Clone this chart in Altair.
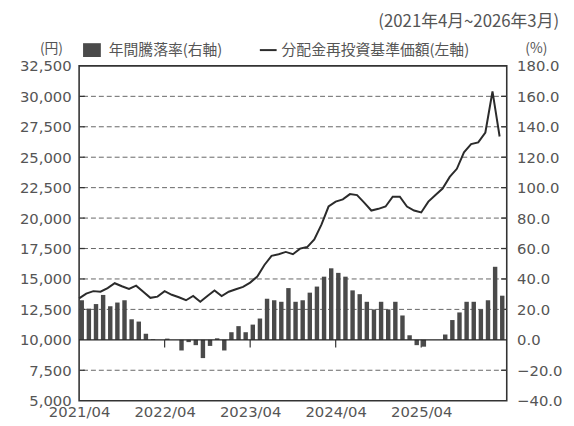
import altair as alt
import pandas as pd

# ---- data ----
month_idx = list(range(60))  # 2021/04 .. 2026/03
rate = [26, 20.5, 23.5, 29.5, 22, 24.5, 26, 13.5, 12, 4,
        0.4, 0, 0.8, 0, -7, -1.5, -3.5, -12, -4, 1,
        -7, 5, 9, 5, 10, 14, 27, 26, 25, 34,
        25, 26, 31, 35, 41.5, 47, 44, 41.5, 32.5, 30,
        25, 20, 25, 20, 25, 16, 3, -3.5, -4.5, 0,
        0, 3.5, 13, 18, 25, 25, 20, 26, 48, 29]
nav = [13400, 13800, 14000, 13950, 14250, 14650, 14400, 14180, 14450, 13950,
       13450, 13550, 14000, 13700, 13500, 13250, 13600, 13120, 13600, 14050,
       13600, 13950, 14150, 14350, 14700, 15200, 16150, 16900, 17030, 17220,
       17030, 17490, 17620, 18240, 19460, 20950, 21350, 21540, 21970, 21890,
       21270, 20620, 20760, 20950, 21760, 21760, 20950, 20620, 20460, 21350,
       21890, 22430, 23380, 24050, 25400, 26080, 26220, 27030, 30400, 26700]

yen_ticks = [5000, 7500, 10000, 12500, 15000, 17500, 20000, 22500, 25000, 27500, 30000, 32500]
pct_ticks = [-40, -20, 0, 20, 40, 60, 80, 100, 120, 140, 160, 180]
grid_pct = [-20, 20, 40, 60, 80, 100, 120, 140, 160]
zero_pct = [0]
year_idx = [0, 12, 24, 36, 48]
year_labels = ["2021/04", "2022/04", "2023/04", "2024/04", "2025/04"]

legend_bar = "年間騰落率(右軸)"
legend_line = "分配金再投資基準価額(左軸)"
unit_left = "(円)"
unit_right = "(%)"
period = "(2021年4月~2026年3月)"

df = pd.DataFrame({"i": month_idx, "rate": rate, "nav": nav})

LBL = "#555555"
NUM_FONT = "DejaVu Sans"
JP_FONT = "Noto Sans CJK JP"

label_expr = "[" + ",".join("'%s'" % s for s in year_labels) + "][round(datum.value/12)]"

xscale = alt.Scale(domain=[0, 60], nice=False, zero=False)
xaxis = alt.Axis(values=year_idx, labelExpr=label_expr, title=None, domain=False,
                 ticks=False, grid=False, labelFont=NUM_FONT, labelFontSize=15,
                 labelColor=LBL, labelPadding=4, labelFlush=False, labelOverlap=False)


def X(f):
    return alt.X(f, scale=xscale, axis=xaxis)


yr_scale = alt.Scale(domain=[-40, 180], nice=False, zero=False)
yr_axis = alt.Axis(orient="right", values=pct_ticks, format=".1f", title=None,
                   domain=False, ticks=False, grid=False, labelFont=NUM_FONT,
                   labelFontSize=15, labelColor=LBL, labelPadding=10,
                   labelFlush=False, labelOverlap=False)


def YR(f="rate:Q"):
    return alt.Y(f, scale=yr_scale, axis=yr_axis)


grid_df = pd.DataFrame({"rate": grid_pct})

grid = alt.Chart(grid_df).mark_rule(color="#666666", strokeDash=[5, 3], strokeWidth=1).encode(y=YR())
ticks_l = alt.Chart(grid_df).transform_calculate(a="0", b="0.8").mark_rule(
    color="#333333", strokeWidth=1.3).encode(x=X("a:Q"), x2="b:Q", y=YR())
ticks_r = alt.Chart(grid_df).transform_calculate(a="59.2", b="60").mark_rule(
    color="#333333", strokeWidth=1.3).encode(x=X("a:Q"), x2="b:Q", y=YR())
bars = alt.Chart(df).transform_calculate(
    x0="datum.i + 0.06", x1="datum.i + 0.68", z="0"
).mark_bar(color="#4a4a4a").encode(x=X("x0:Q"), x2="x1:Q", y=YR(), y2="z:Q")
zero = alt.Chart(pd.DataFrame({"rate": zero_pct})).mark_rule(color="#222222", strokeWidth=1.3).encode(y=YR())
yticks = alt.Chart(pd.DataFrame({"m": year_idx[1:]})).transform_calculate(
    rate="0", r2="-5").mark_rule(color="#333333", strokeWidth=1.2).encode(
    x=X("m:Q"), y=YR(), y2="r2:Q")

inner = alt.layer(grid, ticks_l, ticks_r, bars, zero, yticks)

line = alt.Chart(df).mark_line(color="#2b2b2b", strokeWidth=2).encode(
    x=X("i:Q"),
    y=alt.Y("nav:Q", scale=alt.Scale(domain=[5000, 32500], nice=False, zero=False),
            axis=alt.Axis(orient="left", values=yen_ticks, format=",d", title=None,
                          domain=False, ticks=False, grid=False, labelFont=NUM_FONT,
                          labelFontSize=15, labelColor=LBL, labelPadding=8,
                          labelFlush=False, labelOverlap=False)),
)


def txt(s, x, y, align="left", size=15, font=JP_FONT):
    return alt.Chart(pd.DataFrame({"t": [s]})).mark_text(
        align=align, baseline="middle", font=font, fontSize=size, color=LBL
    ).encode(text="t:N", x=alt.value(x), y=alt.value(y))


leg_rect = alt.Chart(pd.DataFrame({"t": [0]})).mark_rect(color="#4a4a4a").encode(
    x=alt.value(4), x2=alt.value(22), y=alt.value(-23), y2=alt.value(-9))
leg_line = alt.Chart(pd.DataFrame({"t": [0]})).mark_rule(color="#2b2b2b", strokeWidth=2).encode(
    x=alt.value(183), x2=alt.value(200), y=alt.value(-16))

texts = [
    txt(unit_left, -28, -17, align="center", size=14),
    txt(legend_bar, 30, -16),
    txt(legend_line, 205, -16),
    txt(unit_right, 463, -17, align="center", size=14),
    txt(period, 486, -44, align="right", size=17),
]

chart = alt.layer(inner, line, leg_rect, leg_line, *texts).resolve_scale(
    y="independent"
).properties(
    width=433, height=339,
    padding={"left": 72, "top": 56, "right": 60, "bottom": 24},
    autosize=alt.AutoSizeParams(type="none"),
).configure_view(stroke="#333333", strokeWidth=1.6)

chart.save("out.html", embed_options={"renderer": "svg", "actions": False})
